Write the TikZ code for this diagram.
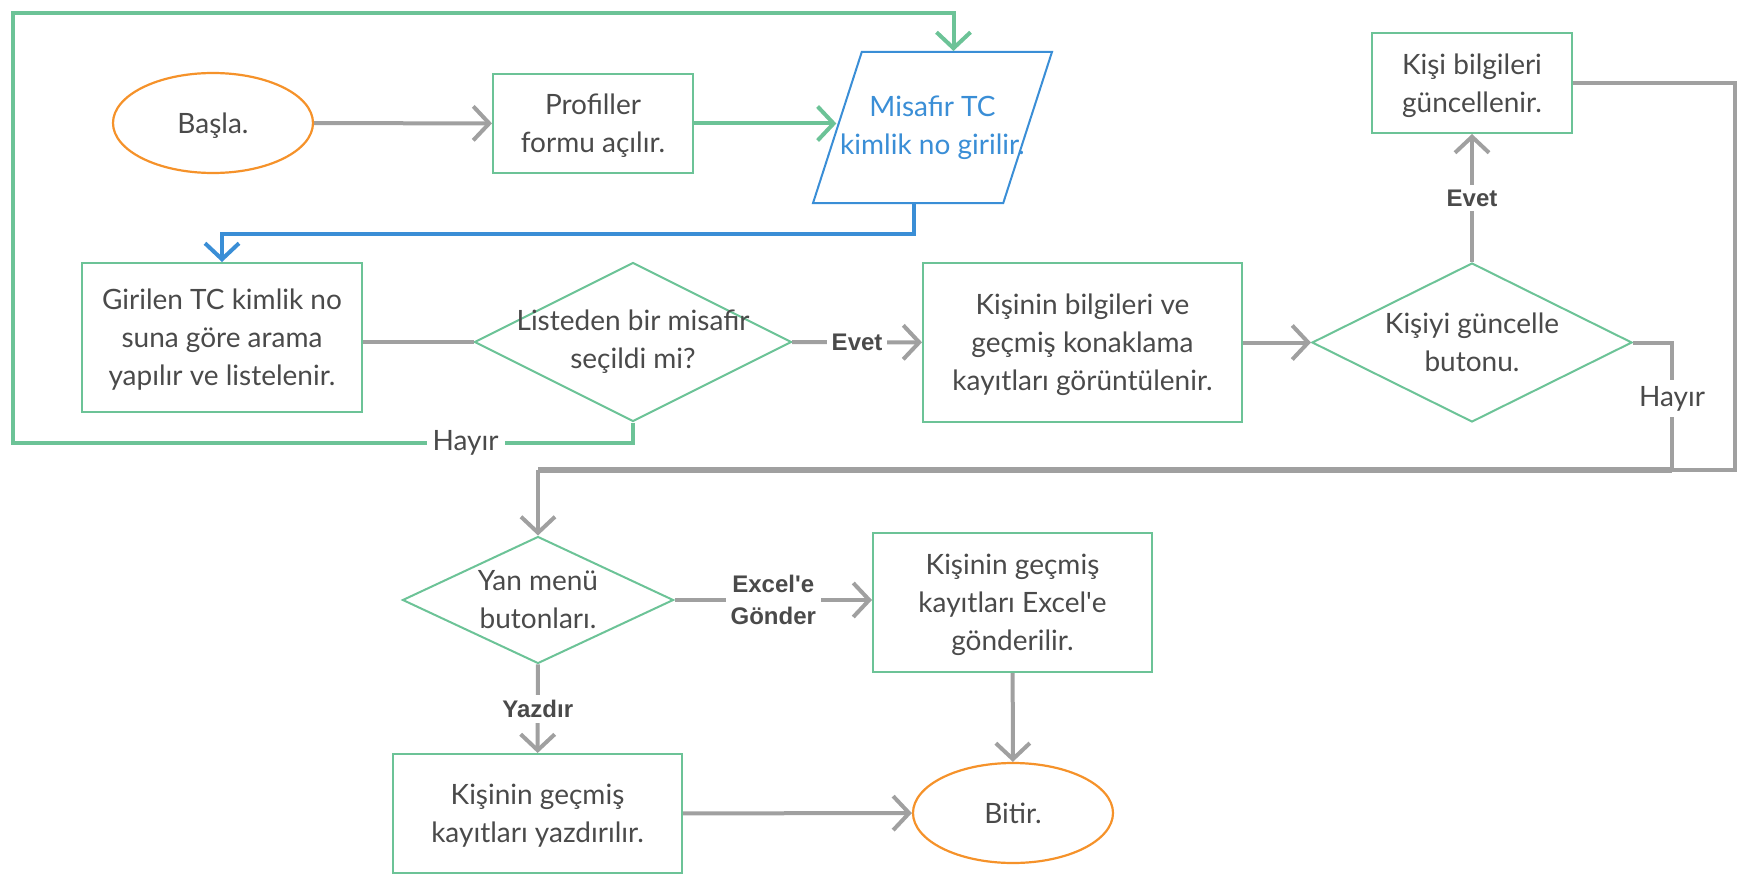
\documentclass[tikz,border=0pt]{standalone}
\usepackage{fontspec}
\setmainfont{Lato}
\newfontfamily\arialfont{Liberation Sans}
\usetikzlibrary{arrows.meta,shapes.geometric}
\definecolor{flgreen}{HTML}{6CC397}
\definecolor{florange}{HTML}{F5922A}
\definecolor{flblue}{HTML}{3A8ED6}
\definecolor{flgray}{HTML}{A0A0A0}
\definecolor{fltext}{HTML}{4A4A4A}

\begin{document}
\begin{tikzpicture}[x=1pt,y=-1pt,>={Straight Barb[length=16pt,width=34pt]},
  font=\fontsize{28}{38}\selectfont,text=fltext,
  proc/.style={draw=flgreen,line width=2pt,align=center,text depth=0pt},
  term/.style={ellipse,draw=florange,line width=2.2pt,minimum width=200pt,minimum height=100pt,text depth=0pt},
  decision/.style={diamond,draw=flgreen,line width=2pt,inner sep=0pt},
  conn/.style={draw=flgray,line width=4pt},
  gconn/.style={draw=flgreen,line width=4pt},
  bconn/.style={draw=flblue,line width=4pt},
  blabel/.style={font=\arialfont\bfseries\fontsize{24}{32}\selectfont,fill=white,align=center,inner sep=5pt},
  hlabel/.style={fill=white,inner sep=6pt}]
\useasboundingbox (0,0) rectangle (1748,888);

\node[term] (start) at (213,123) {Başla.};
\node[proc,minimum width=200pt,minimum height=99pt] (prof) at (593,123.5) {Profiller\\formu açılır.};
\node[trapezium,trapezium left angle=71,trapezium right angle=109,trapezium stretches=true,
  draw=flblue,line width=2pt,minimum width=239pt,minimum height=151pt,
  label={[text=flblue,align=center]center:Misafir TC\\kimlik no girilir.}] (par) at (932.5,127.5) {};
\node[proc,minimum width=280pt,minimum height=149pt] (gir) at (222,337.5) {Girilen TC kimlik no\\suna göre arama\\yapılır ve listelenir.};
\node[decision,minimum width=317pt,minimum height=159pt,
  label={[align=center]center:Listeden bir misafir\\seçildi mi?}] (d1) at (633,342) {};
\node[proc,minimum width=319pt,minimum height=159pt] (kis) at (1082.5,342.5) {Kişinin bilgileri ve\\geçmiş konaklama\\kayıtları görüntülenir.};
\node[decision,minimum width=320pt,minimum height=159pt,
  label={[align=center]center:Kişiyi güncelle\\butonu.}] (d2) at (1472,342.5) {};
\node[proc,minimum width=200pt,minimum height=100pt] (kb) at (1472,83) {Kişi bilgileri\\güncellenir.};
\node[decision,minimum width=271pt,minimum height=127pt,
  label={[align=center]center:Yan menü\\butonları.}] (d3) at (538,600) {};
\node[proc,minimum width=279pt,minimum height=139pt] (exb) at (1012.5,602.5) {Kişinin geçmiş\\kayıtları Excel\textquotesingle e\\gönderilir.};
\node[proc,minimum width=289pt,minimum height=119pt] (yz) at (537.5,813.5) {Kişinin geçmiş\\kayıtları yazdırılır.};
\node[term] (end) at (1013,813) {Bitir.};

\coordinate (lpbl) at (13,443);
\coordinate (lptl) at (13,13);
\coordinate (jn) at (1672,470);
\coordinate (rt) at (1735,470);

\draw[conn,->] (start) -- (prof);
\draw[gconn,->] (prof.east) -- (prof.east -| par.west);
\draw[gconn,->] (d1.south) -- (d1.south |- lpbl) -- node[hlabel,pos=0.27]{Hayır} (lpbl) -- (lptl) -| ([xshift=21pt]par.north);
\draw[bconn,->] ([xshift=-19pt]par.south) -- ++(0,30) -| (gir.north);
\draw[conn] (d1.west -| gir.east) -- (d1.west);
\draw[conn,->] (d1) -- node[blabel]{Evet} (kis);
\draw[conn,->] (kis) -- (d2);
\draw[conn,->] (d2) -- node[blabel]{Evet} (kb);
\draw[conn] (kb.east) -| (rt) -- (jn);
\draw[conn] (d2.east) -| node[hlabel,pos=0.72]{Hayır} (jn);
\draw[conn,line width=6.5pt] (jn) -- (jn -| d3.north);
\draw[conn,->] (jn -| d3.north) -- (d3.north);
\draw[conn,->] (d3.east) -- node[blabel]{Excel\textquotesingle e\\Gönder} (d3.east -| exb.west);
\draw[conn,->] (d3) -- node[blabel]{Yazdır} (yz);
\draw[conn,->] (exb) -- (end);
\draw[conn,->] (yz) -- (end);
\end{tikzpicture}
\end{document}
